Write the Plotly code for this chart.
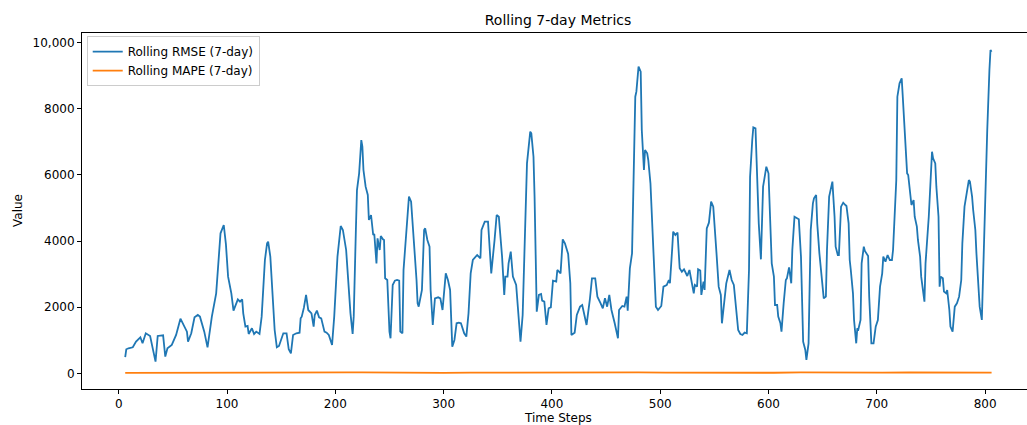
import plotly.graph_objects as go

# Rolling RMSE (7-day): time step, value
rmse_steps = [6, 7, 9, 13, 16, 20, 22, 25, 29, 32, 34, 36, 41, 43, 45, 49, 53, 57, 60, 63, 64, 67, 70, 73, 75, 79, 82, 86, 90, 94, 97,
              99, 101, 104, 106, 110, 112, 114, 115, 117, 119, 120, 123, 125, 127, 130, 132, 135, 137, 138, 140, 142, 144, 146, 148,
              152, 155, 157, 159, 161, 164, 167, 168, 169, 171, 173, 175, 178, 180, 181, 183, 185, 187, 190, 192, 194, 197, 199, 202,
              205, 207, 210, 212, 214, 216, 217, 219, 220, 222, 224, 225, 226, 228, 230, 231, 233, 235, 236, 238, 239, 241, 242, 244,
              245, 246, 248, 250, 251, 253, 255, 257, 259, 260, 262, 263, 266, 268, 270, 272, 275, 276, 277, 280, 282, 283, 285, 287,
              288, 290, 292, 295, 297, 299, 301, 302, 304, 306, 308, 310, 312, 314, 316, 319, 321, 323, 325, 327, 331, 334, 335, 338,
              341, 343, 344, 347, 349, 351, 354, 356, 357, 359, 360, 362, 364, 367, 369, 371, 373, 375, 377, 380, 381, 383, 384, 386,
              388, 390, 391, 393, 395, 397, 399, 401, 404, 405, 408, 410, 412, 415, 417, 418, 421, 423, 426, 428, 430, 432, 435, 437,
              440, 442, 445, 447, 449, 451, 453, 455, 458, 461, 462, 465, 467, 469, 470, 472, 474, 475, 477, 478, 480, 482, 483, 485,
              486, 488, 489, 491, 494, 496, 498, 501, 503, 506, 508, 509, 511, 512, 514, 516, 518, 520, 522, 525, 527, 529, 531, 532,
              534, 535, 537, 538, 540, 541, 543, 545, 547, 549, 551, 552, 554, 556, 557, 559, 561, 564, 566, 568, 570, 572, 574, 576,
              578, 580, 582, 583, 585, 586, 588, 589, 591, 593, 595, 596, 598, 600, 602, 603, 605, 606, 608, 609, 611, 612, 614, 616,
              617, 619, 621, 622, 624, 626, 628, 630, 631, 632, 634, 635, 637, 638, 639, 641, 642, 644, 645, 647, 649, 651, 653, 654,
              656, 658, 659, 661, 662, 664, 665, 667, 669, 671, 672, 674, 675, 676, 678, 679, 681, 682, 683, 685, 686, 688, 689, 692,
              693, 695, 697, 699, 701, 703, 705, 706, 708, 710, 712, 714, 715, 718, 719, 721, 723, 724, 726, 728, 729, 731, 732, 734,
              735, 737, 738, 740, 741, 744, 745, 748, 749, 751, 752, 754, 755, 757, 758, 759, 761, 762, 764, 765, 767, 768, 770, 772,
              774, 776, 778, 779, 781, 783, 785, 786, 788, 789, 791, 792, 794, 795, 797, 798, 800, 802, 804, 805, 806]
rmse_values = [490, 726, 756, 786, 958, 1089, 907, 1210, 1129, 706, 353, 1129, 1149, 504, 756, 857, 1159, 1653, 1462, 1260, 958, 1210, 1693, 1764, 1714, 1260, 786, 1714, 2419, 4234, 4486,
               3900, 2923, 2419, 1895, 2238, 2167, 2238, 1814, 1411, 1431, 1189, 1361, 1189, 1260, 1189, 1714, 3427, 3931, 3982, 3528, 2318, 1310, 786, 827,
               1210, 1210, 726, 605, 1159, 1210, 1230, 1663, 1714, 1986, 2369, 1915, 1814, 1411, 1764, 1895, 1693, 1663, 1260, 1230, 1159, 857, 1714, 3528,
               4455, 4335, 3730, 2722, 1814, 1189, 1714, 4335, 5544, 6048, 7056, 6854, 6149, 5645, 5393, 4637, 4788, 4183, 4213, 3326, 4082, 3730, 4153, 4052,
               4032, 2873, 2822, 1260, 1058, 2671, 2802, 2822, 2802, 1260, 1210, 3125, 4335, 5342, 5191, 4335, 2822, 2117, 2016, 2520, 4335, 4385, 4032, 3830,
               2520, 1462, 2268, 2298, 2268, 1915, 2873, 3024, 2822, 2520, 806, 1008, 1512, 1532, 1512, 1210, 1109, 1814, 3024, 3427, 3578, 3478, 4335, 4586,
               4586, 3730, 3024, 4012, 4788, 4737, 3528, 2369, 2923, 2923, 3326, 3679, 2923, 2671, 1714, 958, 1764, 4133, 6350, 7308, 7258, 6552, 5342, 1865,
               2369, 2399, 2197, 2167, 1462, 1966, 1996, 2802, 2772, 3125, 3024, 4052, 3931, 3609, 2722, 1159, 1230, 1764, 2016, 2066, 1714, 1462, 2218, 2873,
               2873, 2318, 2117, 1966, 2268, 2016, 2369, 1915, 1512, 1058, 1915, 2036, 2016, 2318, 1895, 3175, 3629, 5342, 8366, 8518, 9274, 9123, 7358, 6149,
               6754, 6653, 6451, 5746, 3326, 2016, 1915, 2036, 2621, 2671, 2822, 2722, 3730, 4284, 4183, 4254, 3175, 3074, 3145, 2943, 3125, 2722, 2419, 2671,
               2621, 3145, 3105, 2369, 2772, 2520, 4385, 4556, 5191, 5040, 3881, 3629, 2621, 2369, 1512, 2167, 2722, 3125, 2822, 2671, 2016, 1310, 1189, 1159,
               1230, 1210, 3125, 5947, 7056, 7439, 7409, 6350, 4536, 3447, 5645, 5846, 6250, 6048, 4335, 3326, 2923, 2066, 2066, 1714, 1512, 1260, 2117, 2822,
               2873, 3205, 2722, 3730, 4737, 4687, 4657, 3528, 1613, 958, 706, 403, 907, 3326, 4335, 5141, 5292, 5393, 4536, 3629, 2822, 2268, 2318, 3730,
               5342, 5696, 5796, 4737, 3830, 3578, 3578, 5040, 5161, 5090, 5060, 4536, 3427, 3125, 2419, 1613, 907, 1361, 1331, 1613, 3326, 3830, 3699, 3548,
               2318, 907, 907, 1411, 1613, 2621, 3024, 3528, 3377, 3578, 3427, 3427, 3730, 5846, 8366, 8770, 8921, 8366, 7157, 6048, 5998, 5342, 5090, 5242,
               4737, 4435, 4032, 3528, 2923, 2167, 3326, 4737, 5544, 6703, 6502, 6350, 5645, 4737, 2621, 2923, 2873, 2470, 2419, 2520, 1915, 1411, 1260, 2016,
               2117, 2318, 2822, 3931, 5040, 5443, 5846, 5796, 5342, 4939, 4335, 3629, 2722, 2016, 1613, 2822, 4737, 7358, 9173, 9778, 9728]

# Rolling MAPE (7-day): stays near zero at this scale
mape_steps = [6, 30, 55, 80, 95, 110, 135, 160, 185, 210, 225, 250, 275, 300, 325, 350, 380, 405, 430, 455, 480, 505, 530, 555,
              580, 605, 630, 655, 680, 705, 730, 755, 780, 806]
mape_values = [15, 14, 16, 18, 32, 22, 20, 14, 16, 26, 30, 18, 22, 14, 20, 24, 28, 18, 16, 20, 30, 22, 18, 24,
               20, 16, 26, 18, 14, 20, 24, 18, 16, 22]

x_ticks = [0, 100, 200, 300, 400, 500, 600, 700, 800]
y_ticks = [0, 2000, 4000, 6000, 8000, 10000]
y_tick_text = ["0", "2000", "4000", "6000", "8000", "10,000"]

FONT = "DejaVu Sans"

fig = go.Figure()
fig.add_trace(go.Scatter(x=rmse_steps, y=rmse_values, mode="lines", name="Rolling RMSE (7-day)",
                         line=dict(color="#1f77b4", width=1.8)))
fig.add_trace(go.Scatter(x=mape_steps, y=mape_values, mode="lines", name="Rolling MAPE (7-day)",
                         line=dict(color="#ff7f0e", width=1.8)))

W, H = 1027, 425
L, R, T, B = 82, 0, 33, 36
fig.update_layout(
    width=W, height=H,
    margin=dict(l=L, r=R, t=T, b=B, pad=0),
    paper_bgcolor="white", plot_bgcolor="white",
    font=dict(family=FONT, size=12, color="black"),
    title=dict(text="Rolling 7-day Metrics", x=558 / W, xref="container", xanchor="center",
               y=1 - 20 / H, yref="container", yanchor="middle",
               font=dict(family=FONT, size=14, color="black")),
    showlegend=True,
    legend=dict(x=0.005, y=0.991, xanchor="left", yanchor="top",
                bgcolor="rgba(255,255,255,0.85)", bordercolor="#cccccc", borderwidth=1,
                font=dict(family=FONT, size=12, color="black"), tracegroupgap=0),
    xaxis=dict(range=[-33.9, 838.7], tickvals=x_ticks, ticks="outside", ticklen=4, tickwidth=1,
               tickcolor="black", showline=True, linecolor="black", linewidth=1, mirror=True,
               showgrid=False, zeroline=False, tickfont=dict(family=FONT, size=12, color="black")),
    yaxis=dict(range=[-475, 10293], tickvals=y_ticks, ticktext=y_tick_text, ticks="outside", ticklen=4,
               tickwidth=1, tickcolor="black", showline=True, linecolor="black", linewidth=1,
               showgrid=False, zeroline=False, tickfont=dict(family=FONT, size=12, color="black")),
    annotations=[
        dict(text="Time Steps", xref="paper", yref="paper", x=(558 - L) / (W - L), y=(389 - 409) / (425 - T - B),
             xanchor="center", yanchor="top", showarrow=False, font=dict(family=FONT, size=12, color="black")),
        dict(text="Value", xref="paper", yref="paper", x=(18 - L) / (W - L), y=0.5, textangle=-90,
             xanchor="center", yanchor="middle", showarrow=False, font=dict(family=FONT, size=12, color="black")),
    ],
)

fig.write_html("out.html")
